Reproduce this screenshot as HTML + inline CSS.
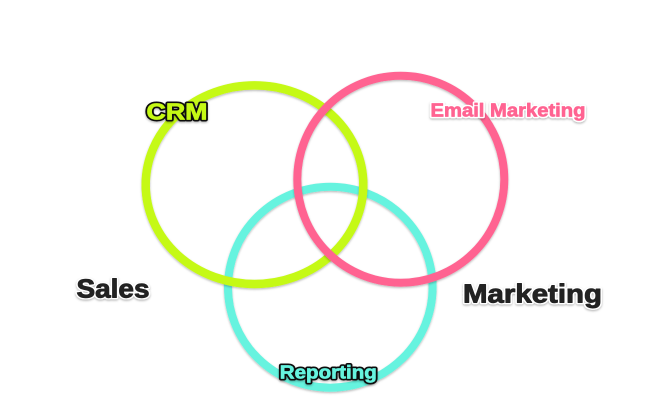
<!DOCTYPE html>
<html>
<head>
<meta charset="utf-8">
<style>
  html, body { margin: 0; padding: 0; background: #ffffff; }
  body { width: 670px; height: 407px; overflow: hidden; }
  svg { display: block; }
  text { font-family: "Liberation Sans", "DejaVu Sans", sans-serif; font-weight: bold; }
</style>
</head>
<body>
<svg width="670" height="407" viewBox="0 0 670 407" xmlns="http://www.w3.org/2000/svg">
  <defs>
    <filter id="sh" x="-10%" y="-10%" width="120%" height="120%">
      <feDropShadow dx="0" dy="1.2" stdDeviation="1" flood-color="#000" flood-opacity="0.28"/>
    </filter>
    <filter id="tsh" x="-10%" y="-30%" width="120%" height="160%">
      <feDropShadow dx="0" dy="1.2" stdDeviation="1" flood-color="#000" flood-opacity="0.3"/>
    </filter>
  </defs>

  <!-- Reporting circle (teal) -->
  <ellipse cx="330.3" cy="287.2" rx="102.3" ry="100.5" fill="none" stroke="#66f3df" stroke-width="8" filter="url(#sh)"/>
  <!-- CRM circle (green) -->
  <ellipse cx="254.5" cy="184.7" rx="108.8" ry="99.3" fill="none" stroke="#c5f915" stroke-width="8.5" filter="url(#sh)"/>
  <!-- Email Marketing circle (pink) -->
  <ellipse cx="400.8" cy="179.2" rx="103.5" ry="103.5" fill="none" stroke="#ff6391" stroke-width="8" filter="url(#sh)"/>

  <!-- CRM -->
  <text x="146.5" y="119.5" font-size="23.5" textLength="61" lengthAdjust="spacingAndGlyphs"
        fill="#111" stroke="#111" stroke-width="4" stroke-linejoin="round" filter="url(#tsh)">CRM</text>
  <text x="146.5" y="119.5" font-size="23.5" textLength="61" lengthAdjust="spacingAndGlyphs"
        fill="#c5f915" stroke="#c5f915" stroke-width="0.8" stroke-linejoin="round">CRM</text>

  <!-- Email Marketing -->
  <text x="430.5" y="116.5" font-size="18.5" textLength="155" lengthAdjust="spacingAndGlyphs"
        fill="#fff" stroke="#ffffff" stroke-width="3.5" stroke-linejoin="round" filter="url(#tsh)">Email Marketing</text>
  <text x="430.5" y="116.5" font-size="18.5" textLength="155" lengthAdjust="spacingAndGlyphs"
        fill="#ff6391" stroke="#ff6391" stroke-width="0.7" stroke-linejoin="round">Email Marketing</text>

  <!-- Sales -->
  <text x="76.5" y="297.3" font-size="26" textLength="73" lengthAdjust="spacingAndGlyphs"
        fill="#fff" stroke="#ffffff" stroke-width="3.5" stroke-linejoin="round" filter="url(#tsh)">Sales</text>
  <text x="76.5" y="297.3" font-size="26" textLength="73" lengthAdjust="spacingAndGlyphs"
        fill="#222222" stroke="#222222" stroke-width="0.9" stroke-linejoin="round">Sales</text>

  <!-- Marketing -->
  <text x="463" y="302.3" font-size="26" textLength="139" lengthAdjust="spacingAndGlyphs"
        fill="#fff" stroke="#ffffff" stroke-width="3.5" stroke-linejoin="round" filter="url(#tsh)">Marketing</text>
  <text x="463" y="302.3" font-size="26" textLength="139" lengthAdjust="spacingAndGlyphs"
        fill="#222222" stroke="#222222" stroke-width="0.9" stroke-linejoin="round">Marketing</text>

  <!-- Reporting -->
  <text x="279.8" y="378.3" font-size="18.5" textLength="97" lengthAdjust="spacingAndGlyphs"
        fill="#111" stroke="#111" stroke-width="4" stroke-linejoin="round" filter="url(#tsh)">Reporting</text>
  <text x="279.8" y="378.3" font-size="18.5" textLength="97" lengthAdjust="spacingAndGlyphs"
        fill="#66f3df" stroke="#66f3df" stroke-width="0.7" stroke-linejoin="round">Reporting</text>
</svg>
</body>
</html>
